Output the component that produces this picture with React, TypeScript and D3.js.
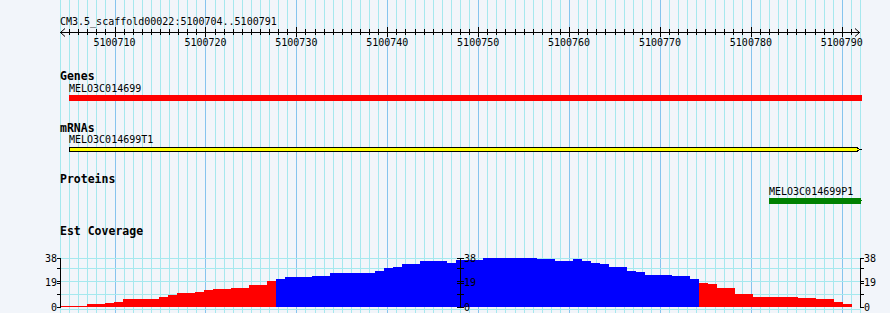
import React from 'react';
import * as d3 from 'd3';

const REGION_START = 5100704;
const REGION_END = 5100792;
const titleText = 'CM3.5_scaffold00022:5100704..5100791';
const rulerLabels = [5100710, 5100720, 5100730, 5100740, 5100750, 5100760, 5100770, 5100780, 5100790];

const geneName = 'MELO3C014699';
const geneStart = 5100705;
const geneEnd = 5100795;
const mrnaName = 'MELO3C014699T1';
const mrnaStart = 5100705;
const mrnaEnd = 5100792;
const proteinName = 'MELO3C014699P1';
const proteinStart = 5100782;
const proteinEnd = 5100795;

const trackTitles = ['Genes', 'mRNAs', 'Proteins', 'Est Coverage'];

const coverage = [
  0.8, 0.8, 0.8, 2.6, 2.6, 3.3, 4.1, 6.2, 6.2, 6.2,
  6.2, 7.8, 9.5, 11.1, 11.1, 11.9, 13.4, 14.2, 14.2, 15.0,
  15.0, 17.3, 17.3, 20.4, 21.7, 23.3, 23.3, 23.3, 24.0, 24.0,
  26.4, 26.4, 26.4, 26.4, 26.4, 28.1, 30.2, 31.3, 33.6, 33.6,
  35.9, 35.9, 35.9, 34.4, 36.8, 36.8, 36.8, 38, 38, 38,
  38, 38, 38, 37.2, 37.2, 35.9, 35.9, 37.2, 35.9, 34.4,
  33.6, 31.3, 31.3, 28.1, 27.4, 25.0, 25.0, 25.0, 24.3, 24.3,
  21.9, 18.8, 18.1, 15.0, 15.0, 10.3, 10.3, 8.0, 8.0, 8.0,
  8.0, 8.0, 7.2, 7.2, 6.2, 6.2, 4.1, 2.6,
];
const coverageThreshold = 21;
const coverageMax = 38;
const coverageLabels = [0, 19, 38];
const coverageTicks = [10, 20, 30];
const coverageGrid = [10, 20, 30, 38];

const W = 890;
const H = 313;
const BG = '#f2f5fa';
const GRID_LIGHT = '#a6e8ee';
const GRID_DARK = '#86c4ee';
const MONO = '"DejaVu Sans Mono", monospace';

export default function App() {
  const x = d3.scaleLinear().domain([REGION_START, REGION_END]).range([60, 860]);
  const xb = d3.scaleBand<number>().domain(d3.range(coverage.length)).range([60, 60 + coverage.length * 9]).padding(0);
  const y = d3.scaleLinear().domain([0, coverageMax]).range([307, 258]);
  const px = (v: number) => Math.round(v) + 0.5;
  const clipR = 862;

  const bases = d3.range(REGION_START, REGION_END + 1);
  const rulerY = 32.5;

  const gx1 = Math.round(x(geneStart));
  const gx2 = Math.min(Math.round(x(geneEnd)), clipR);
  const mx1 = Math.round(x(mrnaStart));
  const mTip = Math.round(x(mrnaEnd));
  const px1 = Math.round(x(proteinStart));
  const px2 = Math.min(Math.round(x(proteinEnd)), clipR);

  const axisX = [60, 460, 860];

  return (
    <svg width={W} height={H} style={{ position: 'absolute', left: 0, top: 0, display: 'block' }}
      shapeRendering="crispEdges" fontFamily={MONO}>
      <rect x={0} y={0} width={W} height={H} fill={BG} />
      {/* vertical grid */}
      {bases.map((b) => (
        <line key={'g' + b} x1={px(x(b))} x2={px(x(b))} y1={0} y2={H}
          stroke={b % 10 === 0 ? GRID_DARK : GRID_LIGHT} strokeWidth={1} />
      ))}
      {/* horizontal grid in coverage track */}
      {coverageGrid.map((v) => (
        <line key={'h' + v} x1={60} x2={860} y1={px(y(v))} y2={px(y(v))} stroke={GRID_LIGHT} />
      ))}
      <line x1={60} x2={860} y1={px(y(0)) + 2} y2={px(y(0)) + 2} stroke={GRID_LIGHT} />

      {/* title */}
      <text x={60} y={25} fontSize={10} fill="#000">{titleText}</text>

      {/* ruler */}
      <line x1={60} x2={860} y1={rulerY} y2={rulerY} stroke="#000" />
      {bases.slice(1, -1).map((b) => (
        <line key={'t' + b} x1={px(x(b))} x2={px(x(b))}
          y1={b % 10 === 0 ? 27 : 29} y2={b % 10 === 0 ? 37 : 35} stroke="#000" />
      ))}
      <path d={`M65,28.5 L60.5,${rulerY} L65,36.5`} fill="none" stroke="#000" shapeRendering="auto" />
      <path d={`M855,28.5 L859.5,${rulerY} L855,36.5`} fill="none" stroke="#000" shapeRendering="auto" />
      {rulerLabels.map((b) => (
        <text key={'l' + b} x={x(b)} y={46} fontSize={10} textAnchor="middle" fill="#000">{b}</text>
      ))}

      {/* track titles */}
      <text x={60} y={80} fontSize={11.5} fontWeight="bold" fill="#000">{trackTitles[0]}</text>
      <text x={60} y={132} fontSize={11.5} fontWeight="bold" fill="#000">{trackTitles[1]}</text>
      <text x={60} y={183} fontSize={11.5} fontWeight="bold" fill="#000">{trackTitles[2]}</text>
      <text x={60} y={235} fontSize={11.5} fontWeight="bold" fill="#000">{trackTitles[3]}</text>

      {/* gene */}
      <text x={gx1} y={92} fontSize={10} fill="#000">{geneName}</text>
      <rect x={gx1} y={95} width={gx2 - gx1} height={6} fill="#ff0000" />

      {/* mRNA */}
      <text x={mx1} y={143} fontSize={10} fill="#000">{mrnaName}</text>
      <path d={`M${mx1 + 0.5},147.5 L${mTip - 3},147.5 L${mTip - 0.5},149.5 L${mTip - 3},151.5 L${mx1 + 0.5},151.5 Z`}
        fill="#ffff00" stroke="#000" strokeWidth={1} />
      <line x1={mTip} x2={clipR} y1={149.5} y2={149.5} stroke="#000" />

      {/* protein */}
      <text x={px1} y={195} fontSize={10} fill="#000">{proteinName}</text>
      <rect x={px1} y={198} width={px2 - 1 - px1} height={6} fill="#008000" />
      <line x1={px2 - 1} x2={px2} y1={200.5} y2={200.5} stroke="#008000" />

      {/* coverage bars */}
      {coverage.map((v, i) => (
        <rect key={'c' + i} x={xb(i)} y={Math.round(y(v))} width={xb.bandwidth()}
          height={307 - Math.round(y(v))} fill={v > coverageThreshold ? '#0000ff' : '#ff0000'} />
      ))}

      {/* coverage axes */}
      {axisX.map((ax, k) => {
        const side = k === 0 ? -1 : 1;
        const t1 = k === 0 ? ax - 3 : k === 1 ? ax - 3 : ax;
        const t2 = k === 0 ? ax : ax + 3;
        return (
          <g key={'a' + k}>
            <line x1={px(ax)} x2={px(ax)} y1={Math.round(y(coverageMax))} y2={Math.round(y(0)) + 1} stroke="#000" />
            {[...coverageLabels, ...coverageTicks].map((v) => (
              <line key={'at' + v} x1={t1} x2={t2 + 1} y1={px(y(v))} y2={px(y(v))} stroke="#000" />
            ))}
            {coverageLabels.map((v) => (
              <text key={'al' + v} x={side < 0 ? ax - 3 : ax + 4} y={y(v) + 3.5} fontSize={10}
                textAnchor={side < 0 ? 'end' : 'start'} fill="#000">{v}</text>
            ))}
          </g>
        );
      })}
    </svg>
  );
}
